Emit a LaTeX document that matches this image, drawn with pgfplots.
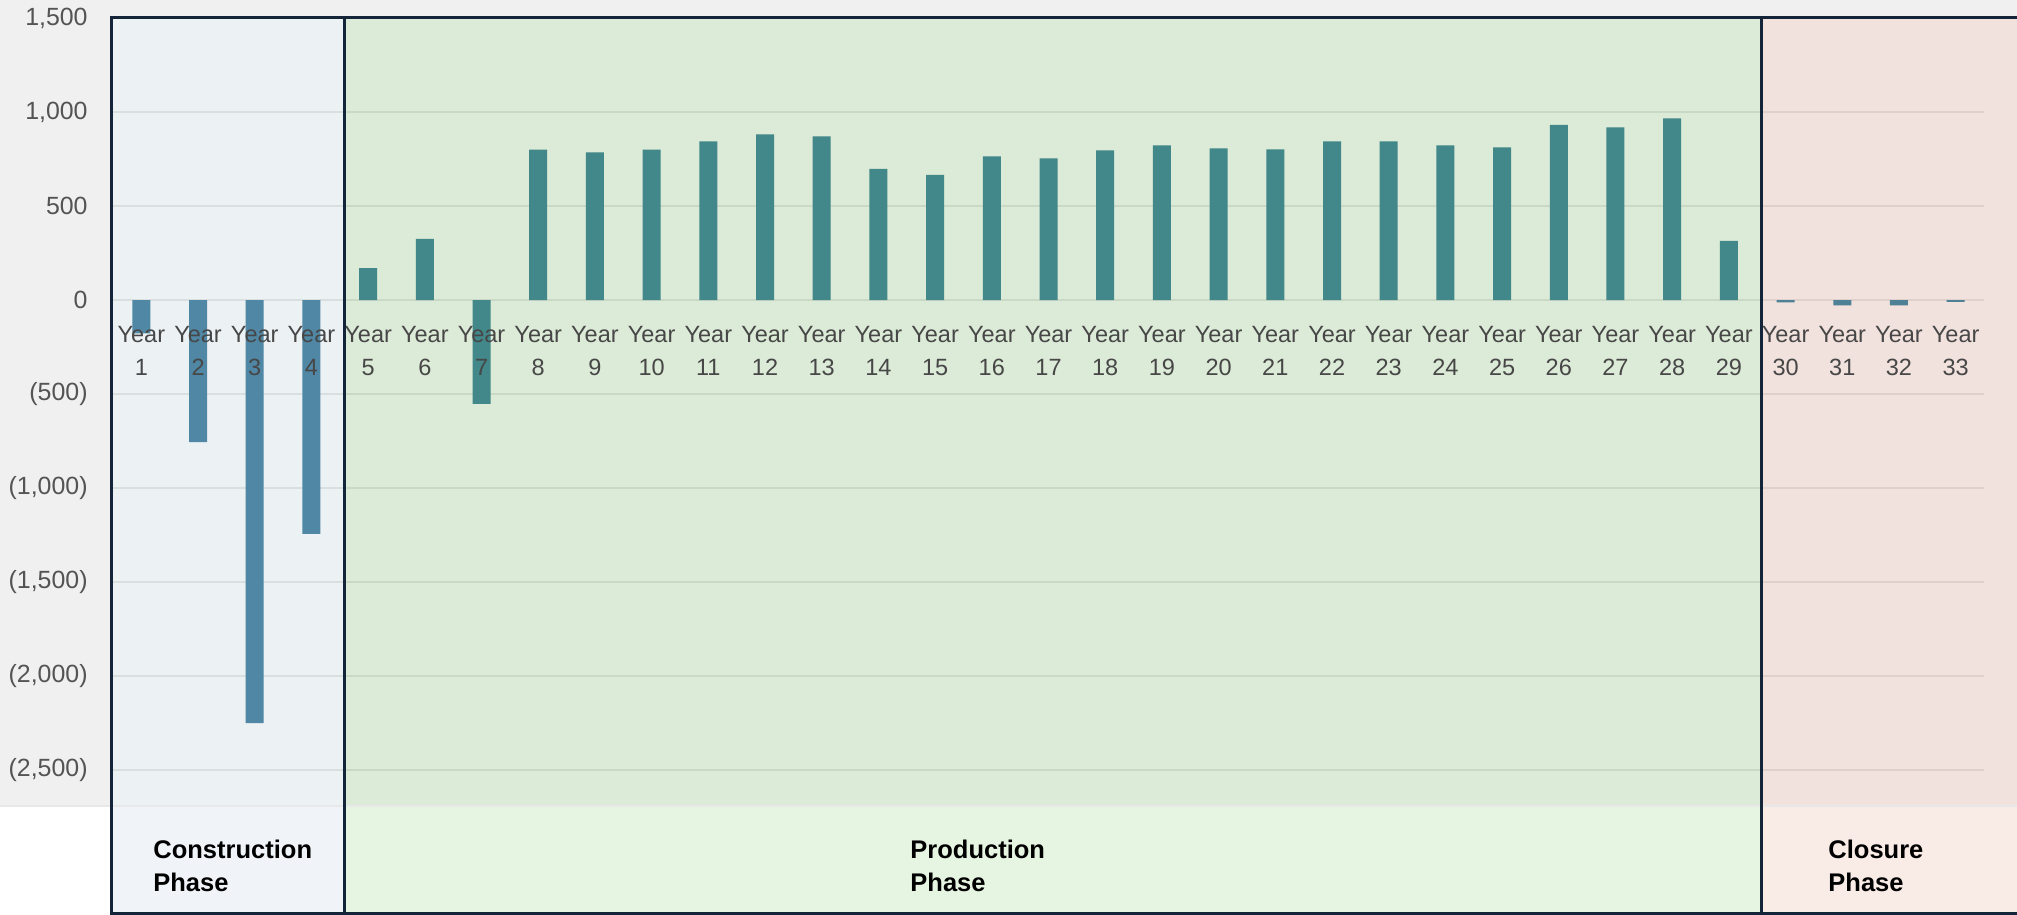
\documentclass[border=0pt]{standalone}
\usepackage{fontspec}
\setmainfont{Liberation Sans}
\usepackage{pgfplots}
\pgfplotsset{compat=1.18}

\definecolor{bgout}{HTML}{F0F0F0}
\definecolor{consA}{HTML}{ECF1F3}
\definecolor{consB}{HTML}{F0F4F9}
\definecolor{prodA}{HTML}{DCEBD7}
\definecolor{prodB}{HTML}{E6F4E2}
\definecolor{closA}{HTML}{F1E2DD}
\definecolor{closB}{HTML}{F9EBE6}
\definecolor{consbar}{HTML}{4F87A5}
\definecolor{prodbar}{HTML}{42878A}
\definecolor{closbar}{HTML}{4E8096}
\definecolor{border}{HTML}{14253A}

\pgfplotsset{
  frame/.style={
    at={(0,0)}, anchor=south west,
    scale only axis,
    width=935.5bp, height=394bp,
    xmin=0.5, xmax=33.5,
    ymin=-2690, ymax=1500,
    axis x line*=middle, axis y line*=left,
    hide obscured x ticks=false, hide obscured y ticks=false,
    axis line style={draw=none},
    major tick length=0pt, tick style={draw=none},
  }
}

\begin{document}
\begin{tikzpicture}[x=1bp,y=1bp]
\useasboundingbox (-56.5,-54.5) rectangle (952,403);
% background panels
\fill[bgout] (-56.5,0) rectangle (952,403);
\fill[white] (-56.5,-54.5) rectangle (952,0);
\fill[consA] (-0.5,0) rectangle (115.5,394);
\fill[consB] (-0.5,-53.5) rectangle (115.5,0);
\fill[prodA] (115.5,0) rectangle (824,394);
\fill[prodB] (115.5,-53.5) rectangle (824,0);
\fill[closA] (824,0) rectangle (953,394);
\fill[closB] (824,-53.5) rectangle (953,0);
\draw[black!9, line width=1bp] (-56.5,0) -- (952,0);

% bars, grid and y labels
\begin{axis}[
    frame,
    ybar, bar width=9bp, bar shift=0pt,
    ymajorgrids,
    major grid style={black, opacity=0.08, line width=1bp},
    ytick={-2500,-2000,-1500,-1000,-500,0,500,1000,1500},
    yticklabels={{(2,500)},{(2,000)},{(1,500)},{(1,000)},(500),0,500,{1,000},{1,500}},
    yticklabel style={font=\fontsize{12.5}{14}\selectfont, text=black!67, inner sep=0pt, xshift=-12.5bp},
    xtick={1,...,33}, xticklabels={},
]
\addplot[fill=consbar, draw=none] coordinates {
  (1,-177) (2,-755) (3,-2250) (4,-1243)
};
\addplot[fill=prodbar, draw=none] coordinates {
  (5,170) (6,326) (7,-552) (8,800) (9,785) (10,800) (11,844) (12,881)
  (13,870) (14,698) (15,666) (16,764) (17,753) (18,796) (19,822) (20,806)
  (21,801) (22,844) (23,844) (24,822) (25,812) (26,931) (27,918) (28,966)
  (29,315)
};
\addplot[fill=closbar, draw=none] coordinates {
  (30,-12) (31,-28) (32,-28) (33,-10)
};
\end{axis}

% category labels, drawn over the bars
\begin{axis}[
    frame,
    ytick=\empty,
    xtick={1,...,33},
    xticklabel={Year\\\pgfmathparse{int(\tick)}\pgfmathresult},
    xticklabel style={font=\fontsize{11.8}{16.5}\selectfont, text=black!72, align=center, anchor=north, inner sep=0pt, yshift=-13bp},
]
\end{axis}

% phase borders
\draw[border, line width=1.5bp] (-0.5,-54.5) -- (-0.5,394) -- (953,394);
\draw[border, line width=1.5bp] (115.5,-54.5) -- (115.5,394);
\draw[border, line width=1.5bp] (824,-54.5) -- (824,394);
\draw[border, line width=1.5bp] (-0.5,-54) -- (953,-54);

% phase labels
\begin{scope}[every node/.style={anchor=base west, inner sep=0pt, font=\fontsize{12.8}{15}\selectfont\bfseries}]
\node at (20,-26.5) {Construction};
\node at (20,-43) {Phase};
\node at (398.5,-26.5) {Production};
\node at (398.5,-43) {Phase};
\node at (857.5,-26.5) {Closure};
\node at (857.5,-43) {Phase};
\end{scope}
\end{tikzpicture}
\end{document}
